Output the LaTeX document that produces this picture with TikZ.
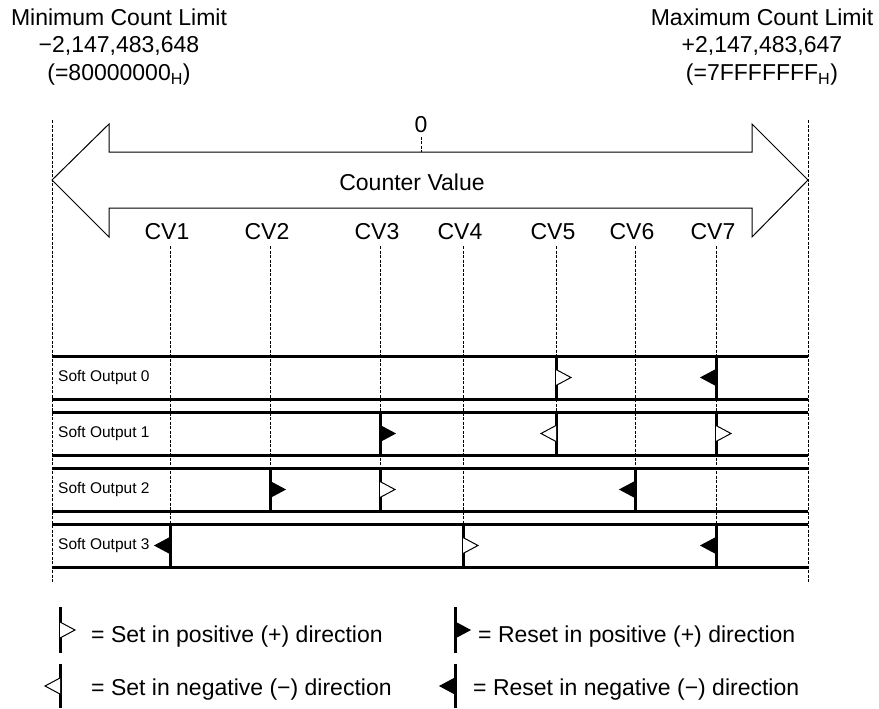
\documentclass[tikz,border=0pt]{standalone}
\usepackage{fontspec}
\setmainfont{Liberation Sans}
\usetikzlibrary{calc}

\begin{document}
\begin{tikzpicture}[x=1pt, y=-1pt,
  txt/.style={font=\fontsize{23}{27.5}\selectfont},
  key/.style={txt, anchor=west, inner sep=0pt},
  rowlbl/.style={font=\fontsize{15.5}{18}\selectfont, anchor=west, inner sep=0pt},
  rail/.style={line width=3pt},
  bar/.style={line width=3pt},
  guide/.style={line width=0.8pt, dash pattern=on 3pt off 1.5pt},
  flag/.pic={\path[draw, line width=1pt, pic actions] (0,-8) -- (15,0) -- (0,8);}]
  \useasboundingbox (0,0) rectangle (879,709);
  % count limits
  \node[txt, align=center] (minlim) at (119,47) {Minimum Count Limit\\−2,147,483,648\\(=80000000\textsubscript{H})};
  \node[txt, align=center] (maxlim) at (762,47) {Maximum Count Limit\\+2,147,483,647\\(=7FFFFFFF\textsubscript{H})};
  % counter value arrow
  \draw[line width=1pt, fill=white] (52,180) -- (109,124) -- (109,152) -- (752,152) -- (752,124)
    -- (808,180) -- (752,237) -- (752,208) -- (109,208) -- (109,237) -- cycle;
  \coordinate (lo) at (52,120); \coordinate (lob) at (52,583);
  \coordinate (hi) at (808,120); \coordinate (hib) at (808,583);
  \draw[guide] (lo) -- (lob); \draw[guide] (hi) -- (hib);
  \node[txt] (zero) at (421,125) {0};
  \coordinate (shaft) at (421,152);
  \draw[guide] (zero) -- (shaft);
  \node[txt] (cval) at (412,182) {Counter Value};
  % set values
  \foreach \i/\x in {1/170,2/270,3/380,4/463,5/556,6/635,7/716} {
    \node[txt] (cv\i) at (\x-3,232) {CV\i};
    \coordinate (g\i) at (\x,246);
  }
  % soft outputs
  \foreach \i/\y in {0/356,1/412,2/468,3/524} {
    \coordinate (rt\i) at (52,\y); \coordinate (rb\i) at (52,\y+43);
    \draw[rail] (rt\i) -- (rt\i -| hi); \draw[rail] (rb\i) -- (rb\i -| hi);
    \node[rowlbl] (so\i) at (58,\y+21.5) {Soft Output \i};
  }
  \foreach \i/\row in {1/3,2/2,3/2,4/3,5/1,6/2,7/3}
    \draw[guide] (g\i) -- (g\i |- rb\row);
  % cv/row/direction/fill (white = set, black = reset)
  \foreach \cv/\row/\dir/\fil in {5/0/1/white, 7/0/-1/black, 3/1/1/black, 5/1/-1/white, 7/1/1/white,
      2/2/1/black, 3/2/1/white, 6/2/-1/black, 1/3/-1/black, 4/3/1/white, 7/3/-1/black} {
    \draw[bar] (g\cv |- rt\row) -- (g\cv |- rb\row);
    \pic[xscale=\dir, fill=\fil] at ($(g\cv |- rt\row)!.5!(g\cv |- rb\row)$) {flag};
  }
  % legend
  \coordinate (k1) at (60,607); \coordinate (k1b) at (60,653);
  \coordinate (k2) at (60,664); \coordinate (k2b) at (60,708);
  \coordinate (k3) at (455,607); \coordinate (k3b) at (455,653);
  \coordinate (k4) at (455,664); \coordinate (k4b) at (455,708);
  \draw[bar] (k1) -- (k1b); \pic[fill=white] at ($(k1)!.5!(k1b)$) {flag};
  \draw[bar] (k2) -- (k2b); \pic[xscale=-1, fill=white] at ($(k2)!.5!(k2b)$) {flag};
  \draw[bar] (k3) -- (k3b); \pic[fill=black] at ($(k3)!.5!(k3b)$) {flag};
  \draw[bar] (k4) -- (k4b); \pic[xscale=-1, fill=black] at ($(k4)!.5!(k4b)$) {flag};
  \node[key] (l1) at (91,637) {= Set in positive (+) direction};
  \node[key] (l2) at (91,690) {= Set in negative (−) direction};
  \node[key] (l3) at (478,637) {= Reset in positive (+) direction};
  \node[key] (l4) at (473,690) {= Reset in negative (−) direction};
\end{tikzpicture}
\end{document}
